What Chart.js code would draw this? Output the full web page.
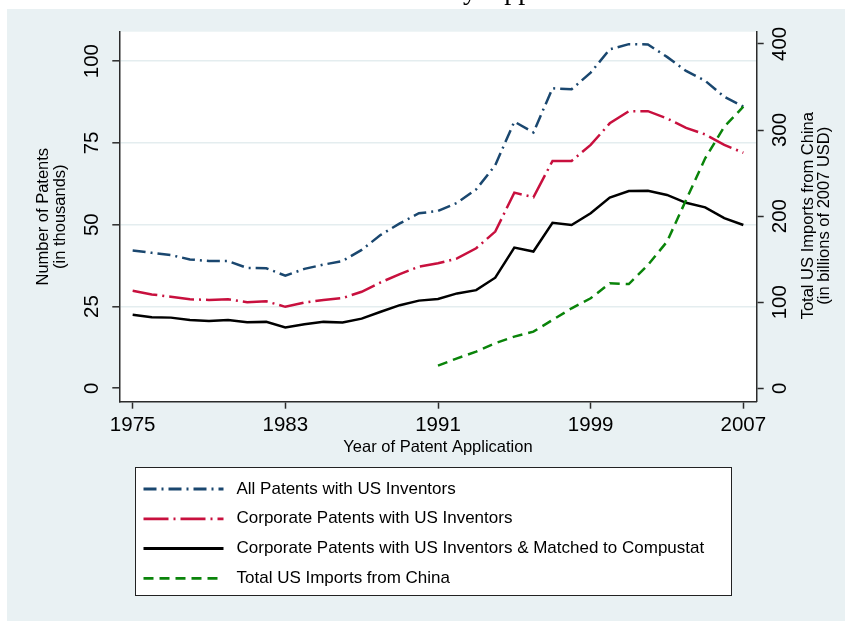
<!DOCTYPE html>
<html>
<head>
<meta charset="utf-8">
<script src="https://cdn.jsdelivr.net/npm/chart.js@4.4.0/dist/chart.umd.min.js"></script>
<style>
html,body{margin:0;padding:0;background:#fff;}
canvas{display:block;}
</style>
</head>
<body>
<canvas id="c" width="845" height="621" style="width:845px;height:621px"></canvas>
<script>
// ---------- data ----------
const years = [1975,1976,1977,1978,1979,1980,1981,1982,1983,1984,1985,1986,1987,1988,1989,1990,1991,
               1992,1993,1994,1995,1996,1997,1998,1999,2000,2001,2002,2003,2004,2005,2006,2007];
const allPatents = [42.1,41.4,40.7,39.4,38.9,38.9,36.8,36.7,34.4,36.5,37.8,38.9,42.3,46.9,50.4,53.5,54.2,
                    56.7,60.8,68.2,81.5,78.2,91.7,91.4,96.5,103.6,105.2,105.1,101.3,97.0,94.0,89.1,86.1];
const corpPatents = [29.8,28.7,28.0,27.2,27.0,27.2,26.3,26.6,24.9,26.2,27.0,27.6,29.5,32.4,34.9,37.2,38.2,
                     39.7,42.8,47.9,59.8,58.4,69.5,69.5,74.4,81.0,84.7,84.7,82.5,79.6,77.6,74.4,72.0];
const compustatPatents = [22.5,21.7,21.6,20.9,20.6,20.9,20.2,20.3,18.6,19.6,20.3,20.1,21.3,23.4,25.4,26.8,27.3,
                          29.0,30.0,33.8,43.0,41.8,50.6,49.9,53.5,58.3,60.3,60.4,59.1,56.7,55.3,52.0,49.9];
const importYears = [1991,1992,1993,1994,1995,1996,1997,1998,1999,2000,2001,2002,2003,2004,2005,2006,2007];
const chinaImports = [26.3,34.8,42.5,52.3,60.0,65.8,79.3,92.9,104.5,122.0,121.1,143.2,170.3,218.7,267.1,303.8,327.1];

const xTicks = [1975,1983,1991,1999,2007];
const leftTicks = [0,25,50,75,100];
const rightTicks = [0,100,200,300,400];

const seriesLabels = ['All Patents with US Inventors',
                      'Corporate Patents with US Inventors',
                      'Corporate Patents with US Inventors & Matched to Compustat',
                      'Total US Imports from China'];
const xTitle = 'Year of Patent Application';
const leftTitle = ['Number of Patents','(in thousands)'];
const rightTitle = ['Total US Imports from China','(in billions of 2007 USD)'];
const chartTitle = 'Patents by Application Year';

// ---------- styling ----------
const FONT = '"Liberation Sans", Arial, Helvetica, sans-serif';
Chart.defaults.font.family = FONT;
Chart.defaults.color = '#000';
const AXIS = '#2b2b2b';
const BG = '#E9F1F3';

const pairs = (xs, ys) => xs.map((x, i) => ({x: x, y: ys[i]}));

const bgPlugin = {
  id: 'bg',
  beforeDraw(chart) {
    const {ctx, chartArea: a, width, height} = chart;
    ctx.save();
    ctx.fillStyle = '#fff';
    ctx.fillRect(0, 0, width, height);
    ctx.fillStyle = BG;
    ctx.fillRect(7, 9, width - 7, height - 9);
    ctx.fillStyle = '#fff';
    ctx.fillRect(a.left, a.top, a.right - a.left, a.bottom - a.top);
    // cropped page title (only descenders visible)
    ctx.font = '28px "Liberation Serif", "Times New Roman", serif';
    ctx.fillStyle = '#000';
    ctx.textAlign = 'left';
    ctx.textBaseline = 'alphabetic';
    const pre = ctx.measureText('Patents b').width;
    ctx.fillText(chartTitle, 463 - pre, -1.5);
    ctx.restore();
  }
};

const legendPlugin = {
  id: 'boxLegend',
  afterDraw(chart) {
    const ctx = chart.ctx;
    ctx.save();
    // right axis title (reads bottom-to-top)
    const s = chart.scales.y2;
    ctx.fillStyle = '#000';
    ctx.font = '16.5px ' + FONT;
    ctx.textAlign = 'center';
    ctx.textBaseline = 'middle';
    ctx.translate(s.left + 51.5, (s.top + s.bottom) / 2 - 1);
    ctx.rotate(-Math.PI / 2);
    rightTitle.forEach((t, i) => ctx.fillText(t, 0, i * 16.5));
    ctx.setTransform(1, 0, 0, 1, 0, 0);

    // legend box
    const bx = 135, by = 467, bw = 597, bh = 129;
    ctx.fillStyle = '#fff';
    ctx.fillRect(bx, by, bw, bh);
    ctx.strokeStyle = '#222';
    ctx.lineWidth = 1;
    ctx.strokeRect(bx + 0.5, by + 0.5, bw - 1, bh - 1);
    const rowY = [489, 518.8, 548.5, 578.3];
    chart.data.datasets.forEach((ds, i) => {
      const y = rowY[i];
      ctx.strokeStyle = ds.borderColor;
      ctx.lineWidth = 2.8;
      ctx.lineCap = 'butt';
      ctx.setLineDash(ds.borderDash || []);
      ctx.beginPath();
      ctx.moveTo(143.5, y);
      ctx.lineTo(223.5, y);
      ctx.stroke();
      ctx.setLineDash([]);
      ctx.fillStyle = '#000';
      ctx.font = '17px ' + FONT;
      ctx.textAlign = 'left';
      ctx.textBaseline = 'middle';
      ctx.fillText(ds.label, 236.5, y);
    });
    ctx.restore();
  }
};

const tickFont = {size: 20.5, lineHeight: 1.1};

new Chart(document.getElementById('c'), {
  type: 'line',
  data: {
    datasets: [
      {label: seriesLabels[0], data: pairs(years, allPatents), yAxisID: 'y',
       borderColor: '#1A476F', borderWidth: 2.5, borderDash: [13, 5, 2, 5]},
      {label: seriesLabels[1], data: pairs(years, corpPatents), yAxisID: 'y',
       borderColor: '#C8103E', borderWidth: 2.5, borderDash: [25, 5, 2, 5]},
      {label: seriesLabels[2], data: pairs(years, compustatPatents), yAxisID: 'y',
       borderColor: '#000000', borderWidth: 2.5, borderDash: []},
      {label: seriesLabels[3], data: pairs(importYears, chinaImports), yAxisID: 'y2',
       borderColor: '#0A840A', borderWidth: 2.5, borderDash: [10, 6], order: -1}
    ]
  },
  options: {
    responsive: false,
    animation: false,
    devicePixelRatio: 1,
    elements: {point: {radius: 0}, line: {tension: 0, fill: false, borderCapStyle: 'butt'}},
    layout: {padding: {left: 0, top: 31.7, right: 0, bottom: 159.3}},
    plugins: {legend: {display: false}, title: {display: false}, tooltip: {enabled: false}},
    scales: {
      x: {
        type: 'linear', position: 'bottom', min: 1974.3, max: 2007.7,
        afterBuildTicks: s => { s.ticks = xTicks.map(v => ({value: v})); },
        afterFit: s => { s.height = 60; },
        ticks: {font: tickFont, padding: 5, minRotation: 0, maxRotation: 0, autoSkip: false,
                color: '#000', callback: v => String(v)},
        grid: {drawOnChartArea: false, drawTicks: true, tickLength: 7, tickColor: AXIS, tickWidth: 1.5},
        border: {display: true, color: AXIS, width: 1.5},
        title: {display: true, text: xTitle, color: '#000', font: {size: 16.5}, padding: {top: 0, bottom: 4.8}}
      },
      y: {
        type: 'linear', position: 'left', min: -4.1, max: 109,
        afterBuildTicks: s => { s.ticks = leftTicks.map(v => ({value: v})); },
        afterFit: s => { s.width = 119.3; },
        ticks: {font: tickFont, padding: 3, minRotation: 90, maxRotation: 90, crossAlign: 'center', color: '#000'},
        grid: {color: c => (c.tick && c.tick.value === 0) ? 'rgba(0,0,0,0)' : '#E4EDEF',
               lineWidth: 1.6, drawTicks: true, tickLength: 7, tickColor: AXIS, tickWidth: 1.5},
        border: {display: true, color: AXIS, width: 1.5},
        title: {display: true, text: leftTitle, color: '#000', font: {size: 16.5, lineHeight: 1.03},
                padding: {top: 34.5, bottom: 0}}
      },
      y2: {
        type: 'linear', position: 'right', min: -15.6, max: 414.2,
        afterBuildTicks: s => { s.ticks = rightTicks.map(v => ({value: v})); },
        afterFit: s => { s.width = 88.3; },
        ticks: {font: tickFont, padding: 0, minRotation: 90, maxRotation: 90, crossAlign: 'center', color: '#000'},
        grid: {drawOnChartArea: false, drawTicks: true, tickLength: 7, tickColor: AXIS, tickWidth: 1.5},
        border: {display: true, color: AXIS, width: 1.5},
        title: {display: false}
      }
    }
  },
  plugins: [bgPlugin, legendPlugin]
});
</script>
</body>
</html>
